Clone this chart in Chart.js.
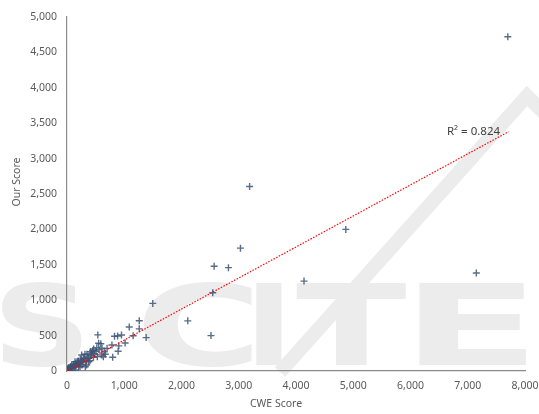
<!DOCTYPE html>
<html>
<head>
<meta charset="utf-8">
<script src="https://cdn.jsdelivr.net/npm/chart.js@4/dist/chart.umd.min.js"></script>
<style>
  html, body { margin: 0; padding: 0; background: #fff; }
  #wrap { width: 539px; height: 414px; }
</style>
</head>
<body>
<div id="wrap"><canvas id="scoreChart" width="539" height="414"></canvas></div>
<script>
// values
const CWE_SCORE = [
  7700, 7150, 3190, 3030, 2570, 2820, 2545, 4870, 4140, 2110, 2515, 1498,
  1262, 1087, 1262, 1382, 538, 830, 884, 952, 1155, 1015, 905, 785, 893, 798,
  590, 520, 507, 606, 634, 530, 432, 462, 314, 401, 256, 343, 197, 140, 227,
  82, 23, 10, 20, 58, 117, 175, 232, 291, 349, 407, 466, 552, 611, 669, 29,
  87, 145, 204, 262, 320, 378, 5, 12, 30, 45, 60, 75, 95, 110, 130, 150, 165,
  185, 210, 240, 260, 280, 300, 330, 360, 380, 420, 450, 480, 560, 650, 700
];
const OUR_SCORE = [
  4720, 1385, 2605, 1735, 1480, 1460, 1105, 2000, 1270, 708, 500, 955,
  710, 622, 595, 472, 510, 490, 494, 508, 497, 395, 355, 368, 280, 195,
  385, 330, 275, 226, 202, 203, 255, 195, 236, 145, 226, 85, 141, 131, 61,
  85, 38, 14, 38, 61, 95, 131, 169, 179, 236, 273, 311, 391, 321, 236, 14,
  38, 14, 61, 85, 61, 131, 10, 25, 15, 40, 30, 55, 45, 70, 60, 95, 80,
  110, 100, 120, 150, 130, 170, 150, 200, 180, 220, 290, 240, 300, 270, 320
];
const TREND_X = [15, 7714];
const TREND_Y = [5, 3380];
const R2_LABEL = 'R² = 0.824';
const R2_AT = { x: 7100, y: 3375 };
const X_TITLE = 'CWE Score';
const Y_TITLE = 'Our Score';
const WATERMARK = ['S', 'C', 'I', 'T', 'E'];

const points = CWE_SCORE.map((x, i) => ({ x, y: OUR_SCORE[i] }));
const trend = TREND_X.map((x, i) => ({ x, y: TREND_Y[i] }));

const FONT = '"Noto Sans", "Liberation Sans", sans-serif';

// light grey publisher watermark behind the plot
const watermark = {
  id: 'watermark',
  beforeDraw(chart) {
    const ctx = chart.ctx;
    const boxes = [[2, 80], [143, 110], [256, 26], [296, 110], [419, 108]];
    ctx.save();
    ctx.fillStyle = '#ececec';
    ctx.strokeStyle = '#ececec';
    ctx.font = 'bold 112px "DejaVu Sans", sans-serif';
    ctx.textBaseline = 'alphabetic';
    WATERMARK.forEach((ch, i) => {
      const [left, w] = boxes[i];
      const m = ctx.measureText(ch);
      const inkW = m.actualBoundingBoxLeft + m.actualBoundingBoxRight;
      ctx.save();
      ctx.translate(left, 365);
      ctx.scale(w / inkW, 1);
      ctx.fillText(ch, m.actualBoundingBoxLeft, 0);
      ctx.restore();
    });
    ctx.lineWidth = 14;
    ctx.beginPath();
    ctx.moveTo(280, 372);
    ctx.lineTo(527, 96);
    ctx.lineTo(545, 114);
    ctx.stroke();
    ctx.restore();
  }
};

const labels = {
  id: 'labels',
  afterDraw(chart) {
    const ctx = chart.ctx;
    const { x, y } = chart.scales;
    ctx.save();
    ctx.fillStyle = '#404040';
    ctx.font = '11.5px ' + FONT;
    ctx.textAlign = 'center';
    ctx.textBaseline = 'middle';
    ctx.fillText(R2_LABEL, x.getPixelForValue(R2_AT.x), y.getPixelForValue(R2_AT.y));
    ctx.fillStyle = '#595959';
    ctx.font = '10.5px ' + FONT;
    ctx.fillText(X_TITLE, 276, 404);
    ctx.translate(17, 182);
    ctx.rotate(-Math.PI / 2);
    ctx.fillText(Y_TITLE, 0, 0);
    ctx.restore();
  }
};

new Chart(document.getElementById('scoreChart'), {
  type: 'scatter',
  data: {
    datasets: [
      {
        type: 'line',
        data: trend,
        borderColor: '#ff0000',
        borderWidth: 1.2,
        borderDash: [1.5, 1.5],
        pointRadius: 0,
        fill: false,
        order: 0,
      },
      {
        data: points,
        pointStyle: 'cross',
        pointRadius: 3.5,
        pointBorderWidth: 1.4,
        borderColor: 'rgba(60,84,116,0.85)',
        backgroundColor: 'rgba(60,84,116,0.85)',
        order: 1,
      },
    ],
  },
  options: {
    responsive: false,
    animation: false,
    events: [],
    layout: { padding: { top: 17, right: 0, left: 0, bottom: 0 } },
    plugins: { legend: { display: false }, tooltip: { enabled: false } },
    scales: {
      x: {
        type: 'linear',
        min: 0,
        max: 8000,
        afterFit: (s) => { s.height = 43; s.paddingRight = 14; },
        grid: { display: false, drawTicks: false },
        border: { display: true, color: '#8a8a8a', width: 1.2 },
        ticks: {
          stepSize: 1000,
          padding: 9,
          color: '#595959',
          font: { family: FONT, size: 10.5 },
          maxRotation: 0,
        },
      },
      y: {
        type: 'linear',
        min: 0,
        max: 5000,
        afterFit: (s) => { s.width = 67; },
        grid: { display: false, drawTicks: false },
        border: { display: true, color: '#8a8a8a', width: 1.2 },
        ticks: {
          stepSize: 500,
          padding: 10,
          color: '#595959',
          font: { family: FONT, size: 10.5 },
        },
      },
    },
  },
  plugins: [watermark, labels],
});
</script>
</body>
</html>
